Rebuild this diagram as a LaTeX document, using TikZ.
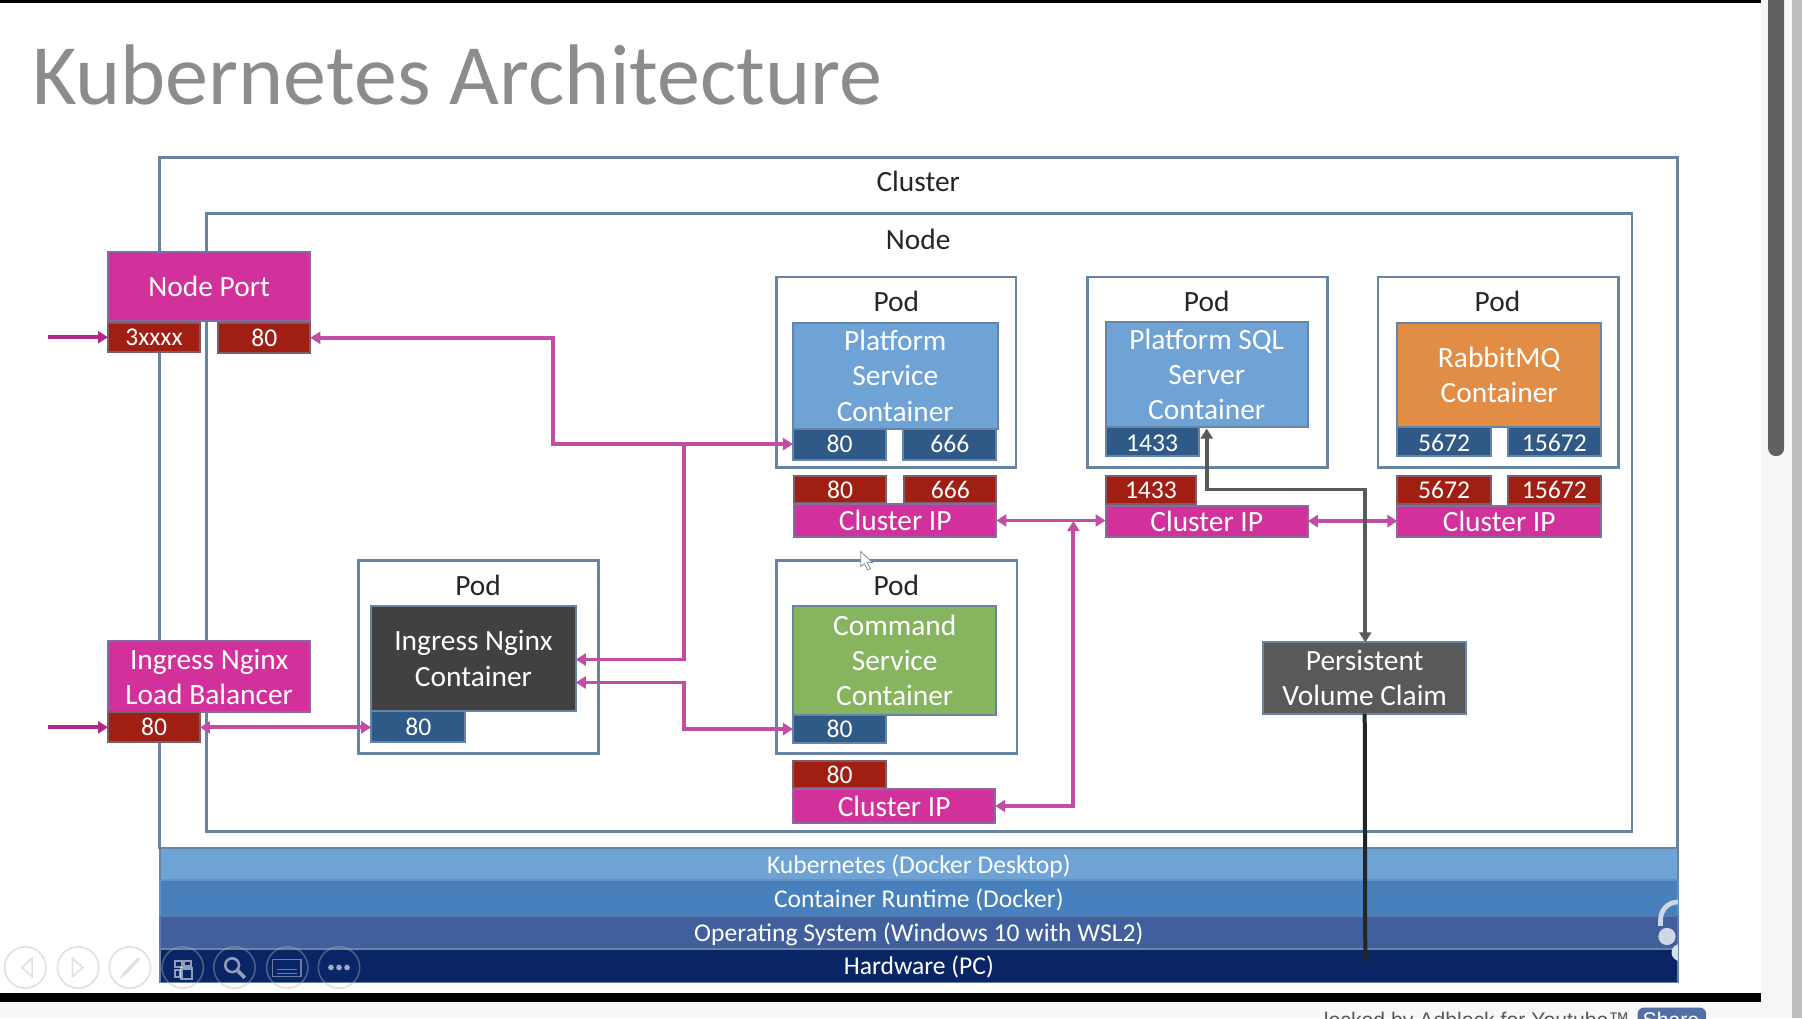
\documentclass[tikz,border=0pt]{standalone}
\usepackage{fontspec}
\setmainfont{Carlito}
\newfontfamily\barfont{Liberation Sans}
\usetikzlibrary{arrows.meta}
\definecolor{edgeblue}{HTML}{6684A3}
\definecolor{pinkbox}{HTML}{D2309A}
\definecolor{redbox}{HTML}{A11F12}
\definecolor{portblue}{HTML}{2F5986}
\definecolor{lightblue}{HTML}{6FA3D6}
\definecolor{orangebox}{HTML}{E28D46}
\definecolor{greenbox}{HTML}{87B55F}
\definecolor{darkbox}{HTML}{424040}
\definecolor{greybox}{HTML}{595959}
\definecolor{linkpink}{HTML}{C24EA4}
\definecolor{inpink}{HTML}{B0288E}
\definecolor{layerA}{HTML}{6FA3D6}
\definecolor{layerB}{HTML}{4780BC}
\definecolor{layerC}{HTML}{405F9C}
\definecolor{layerD}{HTML}{0A2565}
\newcommand\szA{\fontsize{14.7}{17.6}\selectfont}
\newcommand\szB{\fontsize{12.8}{15}\selectfont}
\newcommand\bx[7]{\node[#6,minimum width={(#4-#2)*0.5746pt},minimum height={(#5-#3)*0.5745pt}] (#1) at ({(#2+#4)/2},{(#3+#5)/2}) {#7};}
\tikzset{
  x=0.5746pt,y=-0.5745pt,
  every node/.style={inner sep=0pt,outer sep=0pt,align=center},
  frame/.style={draw=edgeblue,line width=1.4pt,fill=white},
  pink/.style={draw=edgeblue!70!pinkbox,line width=1pt,fill=pinkbox,text=white,font=\szA},
  redport/.style={draw=edgeblue!60!redbox,line width=1pt,fill=redbox,text=white,font=\szB},
  blueport/.style={draw=edgeblue,line width=1pt,fill=portblue,text=white,font=\szB},
  lowport/.style={blueport,text height=9.2pt,text depth=0pt},
  holder/.style={draw=edgeblue,line width=1pt,text=white,font=\szA},
  label/.style={text=black!85,font=\szA},
  layer/.style={text=white,font=\szB,text height=10.2pt,text depth=1pt},
  link/.style={draw=linkpink,line width=1.9pt,arrows={-{Triangle[length=5pt,width=6pt]}}},
  duplex/.style={link,arrows={{Triangle[length=5pt,width=6pt]}-{Triangle[length=5pt,width=6pt]}}},
  inlink/.style={link,draw=inpink},
  greylink/.style={draw=greybox,line width=1.9pt,arrows={{Triangle[length=5pt,width=6pt]}-{Triangle[length=5pt,width=6pt]}}},
  blacklink/.style={draw=black!85,line width=2pt,arrows={-{Triangle[length=4pt,width=4pt]}}},
  ctl/.style={draw=black!30,line width=0.8pt,draw opacity=.4,fill=none},
  ctlicon/.style={draw=black!30,line width=0.8pt,draw opacity=.4},
  ctlglyph/.style={draw=white,draw opacity=.55},
}
\begin{document}
\begin{tikzpicture}
\useasboundingbox (0,0) rectangle (1568,886);
\fill[black!3] (0,0) rectangle (1568,886);
\fill[white] (0,0) rectangle (1532,864);
\fill[black] (0,0) rectangle (1532,3);
\fill[black] (0,864) rectangle (1532,872);
\fill[black!26] (1559.5,0) rectangle (1568,886);
\fill[black!62] (1538.5,0) -- (1552.5,0) -- (1552.5,390) arc[start angle=0,end angle=180,radius=7] -- cycle;
% bottom strip
\begin{scope}
\clip (0,872) rectangle (1568,886);
\node[anchor=base east,font=\barfont\fontsize{10.6}{13}\selectfont,text=black!65] (adtext) at (1418,894.5) {locked by Adblock for Youtube™};
\fill[rounded corners=3pt,fill=layerC!90!white] (1425,877) rectangle (1484.5,900);
\node[anchor=base,font=\barfont\fontsize{10.6}{13}\selectfont,text=white] (sharebtn) at (1454,894.5) {Share};
\end{scope}
% title
\node[anchor=base west,font=\fontsize{43}{50}\selectfont,text=black!45] (title) at (28,91) {Kubernetes Architecture};
% frames
\bx{cluster}{139}{137}{1460}{738}{frame}{}
\bx{nodeframe}{180}{186}{1420}{724}{frame}{}
\node[label] (clusterlabel) at (799,158) {Cluster};
\node[label] (nodelabel) at (799,208) {Node};
% layers
\bx{lay1}{139}{738}{1460}{766}{draw=edgeblue,line width=.8pt,fill=layerA,layer}{Kubernetes (Docker Desktop)}
\bx{lay2}{139}{766}{1460}{797}{draw=layerB!85!white,line width=.8pt,fill=layerB,layer}{Container Runtime (Docker)}
\bx{lay3}{139}{797}{1460}{826}{draw=layerC!85!white,line width=.8pt,fill=layerC,layer}{Operating System (Windows 10 with WSL2)}
\bx{lay4}{139}{826}{1460}{855}{draw=edgeblue,line width=.8pt,fill=layerD,layer}{Hardware (PC)}
% pods
\bx{podA}{676}{241}{884}{407}{frame}{}
\bx{podB}{946}{241}{1155}{407}{frame}{}
\bx{podC}{1199}{241}{1408}{407}{frame}{}
\bx{podD}{312}{488}{521}{656}{frame}{}
\bx{podE}{676}{488}{885}{656}{frame}{}
\node[label] (podAl) at (780,262) {Pod};
\node[label] (podBl) at (1050,262) {Pod};
\node[label] (podCl) at (1303,262) {Pod};
\node[label] (podDl) at (416,509.5) {Pod};
\node[label] (podEl) at (780,509.5) {Pod};
% containers
\bx{contA}{690}{281}{868}{373}{holder,fill=lightblue}{Platform\\Service\\Container}
\bx{contB}{962}{280}{1138}{372}{holder,fill=lightblue}{Platform SQL\\Server\\Container}
\bx{contC}{1216}{281}{1393}{372}{holder,fill=orangebox}{RabbitMQ\\Container}
\bx{contD}{323}{527}{501}{619}{holder,fill=darkbox}{Ingress Nginx\\Container}
\bx{contE}{690}{527}{867}{622}{holder,fill=greenbox}{Command\\Service\\Container}
% container ports
\bx{pA80}{690}{373}{771}{400}{blueport}{80}
\bx{pA666}{786}{373}{867}{400}{blueport}{666}
\bx{pB1433}{962}{372}{1043}{397}{lowport}{1433}
\bx{pC5672}{1216}{372}{1297}{397}{lowport}{5672}
\bx{pC15672}{1312}{372}{1393}{397}{lowport}{15672}
\bx{pD80}{323}{619}{405}{646}{blueport}{80}
\bx{pE80}{690}{622}{771}{647}{blueport}{80}
% service ports
\bx{rA80}{691}{414}{771}{438}{redport}{80}
\bx{rA666}{787}{414}{867}{438}{redport}{666}
\bx{rB1433}{962}{414}{1041}{439}{redport}{1433}
\bx{rC5672}{1216}{414}{1297}{439}{redport}{5672}
\bx{rC15672}{1312}{414}{1393}{439}{redport}{15672}
\bx{rE80}{690}{662}{771}{686}{redport}{80}
% cluster IPs
\bx{ipA}{691}{439}{867}{467}{pink}{Cluster IP}
\bx{ipB}{962}{440}{1138}{467}{pink}{Cluster IP}
\bx{ipC}{1216}{440}{1393}{467}{pink}{Cluster IP}
\bx{ipE}{690}{687}{866}{716}{pink}{Cluster IP}
% node port + ingress lb
\bx{nport}{94}{219}{270}{279}{pink}{Node Port}
\bx{np3x}{94}{281}{174}{306}{redport}{3xxxx}
\bx{np80}{190}{281}{270}{307}{redport}{80}
\bx{lb}{94}{558}{270}{620}{pink}{Ingress Nginx\\Load Balancer}
\bx{lb80}{94}{620}{174}{646}{redport}{80}
\bx{pvc}{1099}{559}{1276}{621}{draw=edgeblue,line width=1pt,fill=greybox,text=white,font=\szA}{Persistent\\Volume Claim}
% free ends
\coordinate (inA) at (42,293.5);
\coordinate (inB) at (42,632);
\coordinate (elbowA) at (481,385);
\coordinate (joinA) at (595,386);
\coordinate (ingTop) at (501,574);
\coordinate (ingLow) at (501,594);
\coordinate (elbowB) at (595,594);
\coordinate (busAB) at (934,453.5);
\coordinate (sqlEntry) at (1050,373);
\coordinate (elbowH) at (1188,426);
\coordinate (hwEnd) at (1188,838);
% connectors
\draw[inlink] (inA |- np3x.west) -- (np3x.west);
\draw[inlink] (inB |- lb80.west) -- (lb80.west);
\draw[duplex] (np80.east) -| (elbowA |- pA80.west) -- (pA80.west);
\draw[link] (joinA |- pA80.west) |- (ingTop);
\draw[duplex] (ingLow) -| (elbowB |- pE80.west) -- (pE80.west);
\draw[duplex] (lb80.east) -- (lb80.east -| pD80.west);
\draw[duplex] (ipA.east) -- (ipA.east -| ipB.west);
\draw[duplex] (ipB.east) -- (ipC.west);
\draw[duplex] (ipE.east) -| (busAB);
\draw[greylink] (sqlEntry) |- (elbowH) -- (elbowH |- pvc.north);
\draw[blacklink] (pvc.south) -- (hwEnd);
% mouse cursor
\draw[black!45,fill=white,line width=.4pt] (749,480) -- (749,493) -- (752,490.5) -- (755,496) -- (757.5,495) -- (754.5,489.5) -- (759,489.5) -- cycle;
% presentation controls
\foreach \cx in {22,68,113,159,204,250,295} {\draw[ctl] (\cx,842) circle[radius=18];}
\draw[ctlicon] (28,834) -- (19,842) -- (28,850) -- cycle;
\draw[ctlicon] (63,834) -- (72,842) -- (63,850) -- cycle;
\draw[ctlicon,line width=1.6pt] (121,834) -- (108,848);
\draw[ctlicon] (105,851) -- (108,848);
\draw[ctlglyph,line width=1pt] (152,836) rectangle (158,842) (160,836) rectangle (166,841) (152,844) rectangle (157,850);
\draw[ctlglyph,line width=1.3pt] (158,843) rectangle (167,852);
\draw[ctlglyph,line width=1.3pt] (202,840) circle[radius=6];
\draw[ctlglyph,line width=1.8pt] (207,845) -- (213,851);
\draw[ctlglyph,line width=.7pt,draw opacity=.4] (237,835) rectangle (262,850);
\draw[ctlglyph,line width=.7pt,draw opacity=.4] (241,844) -- (258,844) (241,847) -- (258,847);
\fill[white,fill opacity=.6] (288,842) circle[radius=2.5] (295,842) circle[radius=2.5] (302,842) circle[radius=2.5];
% partial overlay at the right edge
\begin{scope}
\clip (1430,775) rectangle (1460,840);
\draw[white!75!layerC,line width=2.4pt] (1445,800) -- (1445,806);
\begin{scope}
\clip (1430,775) rectangle (1460,800);
\draw[white!75!layerC,line width=2.4pt] (1460,800) circle[radius=15];
\end{scope}
\fill[white!75!layerC] (1450.5,815) circle[radius=7.5];
\fill[white!80!layerC] (1462,829) circle[radius=7.5];
\end{scope}
\end{tikzpicture}
\end{document}
